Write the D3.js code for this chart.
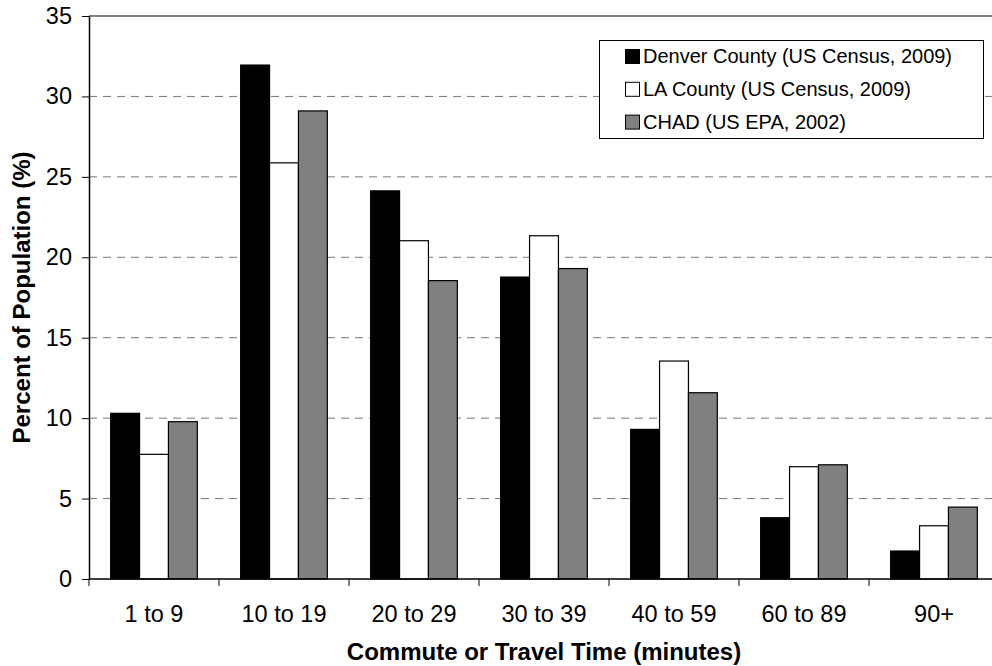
<!DOCTYPE html>
<html><head><meta charset="utf-8">
<script src="https://cdn.jsdelivr.net/npm/d3@7"></script>
<style>body{margin:0;background:#fff}svg{display:block}</style>
</head><body>
<script>
const categories = ["1 to 9","10 to 19","20 to 29","30 to 39","40 to 59","60 to 89","90+"];
const seriesNames = ["Denver County (US Census, 2009)","LA County (US Census, 2009)","CHAD (US EPA, 2002)"];
const seriesColors = ["#000000","#ffffff","#808080"];
const denver = [10.3, 31.95, 24.13, 18.77, 9.3, 3.81, 1.74];
const la = [7.75, 25.87, 21.03, 21.34, 13.55, 6.98, 3.31];
const chad = [9.78, 29.1, 18.55, 19.3, 11.58, 7.1, 4.47];
const yTicks = [0,5,10,15,20,25,30,35];

const W = 992, H = 666;
const m = {left: 89, top: 16, right: 999, bottom: 579};
const FONT = "'Liberation Sans', Arial, sans-serif";
const svg = d3.select("body").append("svg").attr("width", W).attr("height", H)
  .style("font-family", FONT);

const x = d3.scaleBand().domain(categories).range([m.left, m.right]).paddingInner(0).paddingOuter(0);
const y = d3.scaleLinear().domain([0, 35]).range([m.bottom, m.top]);
const inner = d3.scaleBand().domain(d3.range(3)).range([0, x.bandwidth()]).paddingInner(0).paddingOuter(0.75);

// gridlines
svg.append("g").selectAll("line").data(yTicks.filter(d => d > 0 && d < 35)).join("line")
  .attr("x1", m.left).attr("x2", m.right)
  .attr("y1", d => y(d)).attr("y2", d => y(d))
  .attr("stroke", "#777").attr("stroke-width", 1).attr("stroke-dasharray", "8,6");

// top border
svg.append("line").attr("x1", m.left).attr("x2", m.right).attr("y1", y(35)).attr("y2", y(35))
  .attr("stroke", "#000").attr("stroke-width", 1.2);

// bars
const data = [denver, la, chad];
const g = svg.append("g");
categories.forEach((c, i) => {
  data.forEach((s, k) => {
    g.append("rect")
      .attr("x", x(c) + inner(k))
      .attr("y", y(s[i]))
      .attr("width", inner.bandwidth())
      .attr("height", y(0) - y(s[i]))
      .attr("fill", seriesColors[k])
      .attr("stroke", "#000").attr("stroke-width", 1.2);
  });
});

// y axis
const yAxis = d3.axisLeft(y).tickValues(yTicks).tickSize(7).tickPadding(10).tickSizeOuter(0);
const ya = svg.append("g").attr("transform", `translate(${m.left},0)`).call(yAxis);
ya.select(".domain").attr("stroke", "#000").attr("stroke-width", 1.5);
ya.selectAll(".tick line").attr("stroke", "#000");
ya.selectAll("text").attr("font-size", 23.5).attr("fill", "#000").attr("font-family", FONT);

// x axis
const xa = svg.append("g").attr("transform", `translate(0,${m.bottom})`);
xa.append("line").attr("x1", m.left).attr("x2", m.right).attr("stroke", "#000").attr("stroke-width", 1.5);
const bounds = d3.range(categories.length + 1).map(i => m.left + i * x.step());
xa.selectAll("line.t").data(bounds).join("line").attr("class", "t")
  .attr("x1", d => d).attr("x2", d => d).attr("y1", 0).attr("y2", 7).attr("stroke", "#000");
xa.selectAll("text").data(categories).join("text")
  .attr("x", d => x(d) + x.bandwidth() / 2).attr("y", 43)
  .attr("text-anchor", "middle").attr("font-size", 23.5).attr("fill", "#000").text(d => d);

// axis titles
svg.append("text").attr("x", (m.left + m.right) / 2).attr("y", 660).attr("text-anchor", "middle")
  .attr("font-size", 24).attr("font-weight", "bold").text("Commute or Travel Time (minutes)");
svg.append("text").attr("transform", `translate(30,${(m.top + m.bottom) / 2}) rotate(-90)`).attr("text-anchor", "middle")
  .attr("font-size", 24).attr("font-weight", "bold").text("Percent of Population (%)");

// legend
const lg = svg.append("g");
lg.append("rect").attr("x", 599.5).attr("y", 40.5).attr("width", 384).attr("height", 98)
  .attr("fill", "#fff").attr("stroke", "#000").attr("stroke-width", 1);
seriesNames.forEach((n, k) => {
  const base = 63 + k * 32.8;
  lg.append("rect").attr("x", 625.5).attr("y", base - 13.5).attr("width", 14).attr("height", 14)
    .attr("fill", seriesColors[k]).attr("stroke", "#000").attr("stroke-width", 1);
  lg.append("text").attr("x", 643).attr("y", base).attr("font-size", 20).attr("fill", "#000").text(n);
});
</script>
</body></html>
